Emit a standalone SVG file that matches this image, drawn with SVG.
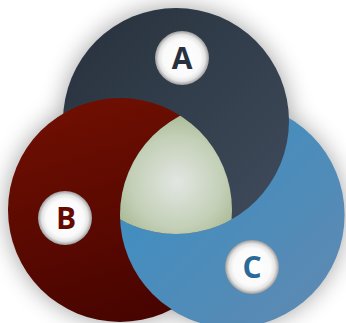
<svg xmlns="http://www.w3.org/2000/svg" width="346" height="323" viewBox="0 0 346 323">
  <defs>
    <linearGradient id="gA" x1="0" y1="0" x2="1" y2="1">
      <stop offset="0" stop-color="#27313d"/>
      <stop offset="1" stop-color="#404c5c"/>
    </linearGradient>
    <linearGradient id="gB" x1="0.3" y1="0" x2="0.6" y2="1">
      <stop offset="0" stop-color="#700f02"/>
      <stop offset="1" stop-color="#470400"/>
    </linearGradient>
    <linearGradient id="gC" x1="0" y1="0" x2="1" y2="1">
      <stop offset="0" stop-color="#3590c6"/>
      <stop offset="1" stop-color="#6189b0"/>
    </linearGradient>
    <radialGradient id="gMid" cx="177" cy="182" r="75" gradientUnits="userSpaceOnUse">
      <stop offset="0" stop-color="#e2e6e2"/>
      <stop offset="0.6" stop-color="#c4d0b8"/>
      <stop offset="1" stop-color="#a3b48c"/>
    </radialGradient>
    <radialGradient id="gLbl">
      <stop offset="0" stop-color="#ffffff"/>
      <stop offset="0.7" stop-color="#fafafa"/>
      <stop offset="0.86" stop-color="#e4e4e4"/>
      <stop offset="1" stop-color="#9c9c9c"/>
    </radialGradient>
    <mask id="notC" maskUnits="userSpaceOnUse" x="0" y="0" width="346" height="323">
      <rect width="346" height="323" fill="#fff"/>
      <circle cx="232" cy="215" r="112" fill="#000"/>
    </mask>
    <clipPath id="clipB"><circle cx="120" cy="210" r="112"/></clipPath>
    <clipPath id="clipC"><circle cx="232" cy="215" r="112"/></clipPath>
    <filter id="shadow" x="-30%" y="-30%" width="160%" height="160%">
      <feGaussianBlur stdDeviation="12"/>
    </filter>
    <filter id="soft" x="-20%" y="-20%" width="140%" height="140%">
      <feGaussianBlur stdDeviation="0.6"/>
    </filter>
    <style>
      .lbl { font-family: "Open Sans", "Liberation Sans", sans-serif; font-weight: bold; font-size: 30px; text-anchor: middle; }
    </style>
  </defs>
  <rect width="346" height="323" fill="#ffffff"/>
  <g id="shadow-layer" filter="url(#shadow)" fill="#000" opacity="0.38">
    <circle cx="176" cy="121" r="113"/>
    <circle cx="120" cy="210" r="112"/>
    <circle cx="232" cy="215" r="112"/>
  </g>
  <g id="circles">
    <g id="circle-C"><circle cx="232" cy="215" r="112.6" fill="url(#gC)"/></g>
    <g id="circle-A"><circle cx="176" cy="121" r="113" fill="url(#gA)"/></g>
    <g id="circle-B" mask="url(#notC)"><circle cx="120" cy="210" r="112" fill="url(#gB)"/></g>
    <g id="center" clip-path="url(#clipB)"><circle cx="176" cy="121" r="113" fill="url(#gMid)" clip-path="url(#clipC)"/></g>
  </g>
  <g id="node-A">
    <circle cx="182" cy="58" r="27" fill="url(#gLbl)" filter="url(#soft)"/>
    <text class="lbl" x="182" y="69" fill="#28313d">A</text>
  </g>
  <g id="node-B">
    <circle cx="65" cy="218" r="27" fill="url(#gLbl)" filter="url(#soft)"/>
    <text class="lbl" x="66" y="229" fill="#650a00">B</text>
  </g>
  <g id="node-C">
    <circle cx="252" cy="267" r="27" fill="url(#gLbl)" filter="url(#soft)"/>
    <text class="lbl" x="252" y="278" fill="#2a6a98">C</text>
  </g>
  <g id="connectors"/>
</svg>
